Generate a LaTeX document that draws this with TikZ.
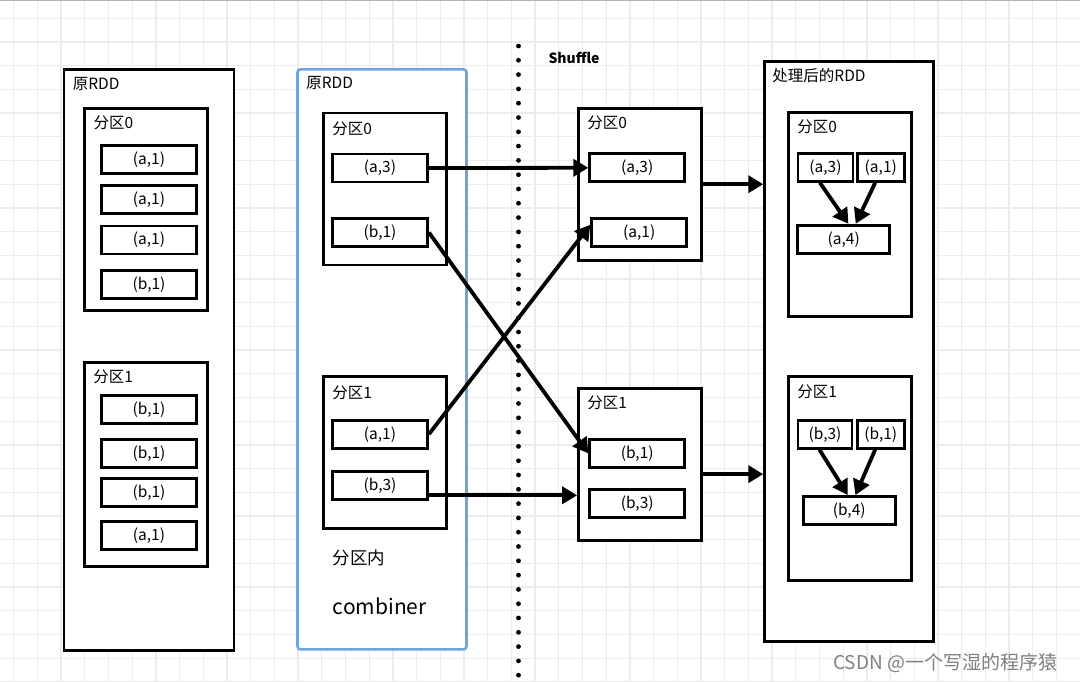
\documentclass[tikz,border=0pt]{standalone}
\usepackage{fontspec}
\setmainfont{Noto Sans CJK SC}
\usetikzlibrary{arrows.meta}
\definecolor{rddblue}{RGB}{110,165,220}
\definecolor{gridgray}{RGB}{236,236,236}
\tikzset{
    %Define standard arrow tip
    >={Triangle[length=15pt,width=17pt]},
    %Define background grid
    gridline/.style={
           draw=gridgray,
           line width=1.3pt},
    %Define style for boxes
    rddbox/.style={
           rectangle,
           draw=black, line width=2.9pt,
           fill=white,
           inner sep=0pt},
    combinebox/.style={
           rectangle,
           rounded corners=3pt,
           draw=rddblue, line width=2.6pt,
           fill=white,
           inner sep=0pt},
    partbox/.style={
           rectangle,
           draw=black, line width=2.8pt,
           fill=white,
           inner sep=0pt},
    kv/.style={
           rectangle,
           draw=black, line width=2.8pt,
           fill=white,
           minimum width=95pt,
           minimum height=28pt,
           inner sep=0pt,
           text=black,
           font=\fontsize{15.5}{18}\selectfont},
    tag/.style={
           anchor=west,
           inner sep=0pt,
           text=black,
           font=\fontsize{15.5}{18}\selectfont},
    % Define arrow style
    pil/.style={
           ->,
           line width=3.8pt}
}

\begin{document}
\begin{tikzpicture}[x=1pt,y=-1pt]
\useasboundingbox (0,0) rectangle (1080,682);
\fill[white] (0,0) rectangle (1080,682);
\foreach \i in {0,...,45}
  \draw[gridline] ({13.7+23.7*\i},0) -- ({13.7+23.7*\i},682);
\foreach \j in {0,...,28}
  \draw[gridline] (0,{18.3+23.7*\j}) -- (1080,{18.3+23.7*\j});
\draw[black!30, line width=1.2pt] (0,0.6) -- (1080,0.6);

% left: original RDD
\node[rddbox, minimum width=170pt, minimum height=581pt] (lft) at (149,359.7) {};
\node[tag] (lfttag) at ([shift={(10,16)}]lft.north west) {原RDD};
\node[partbox, minimum width=123pt, minimum height=202pt] (l0) at (146.3,209.2) {};
\node[tag] (l0tag) at ([shift={(10,16)}]l0.north west) {分区0};
\node[kv] (l0a) at (149,159.2) {(a,1)};
\node[kv] (l0b) at (149,199.2) {(a,1)};
\node[kv] (l0c) at (149,240) {(a,1)};
\node[kv] (l0d) at (149,284.2) {(b,1)};
\node[partbox, minimum width=123pt, minimum height=204pt] (l1) at (146,464.2) {};
\node[tag] (l1tag) at ([shift={(10,16)}]l1.north west) {分区1};
\node[kv] (l1a) at (149,409.5) {(b,1)};
\node[kv] (l1b) at (149,453.3) {(b,1)};
\node[kv] (l1c) at (149,492.5) {(b,1)};
\node[kv] (l1d) at (149,535.8) {(a,1)};

% middle: original RDD with combiner
\node[combinebox, minimum width=169pt, minimum height=580pt] (mid) at (382,359.4) {};
\node[tag] (midtag) at ([shift={(10,15)}]mid.north west) {原RDD};
\node[partbox, minimum width=123pt, minimum height=152pt] (m0) at (385,189) {};
\node[tag] (m0tag) at ([shift={(10,17)}]m0.north west) {分区0};
\node[kv] (m0a3) at (380,168) {(a,3)};
\node[kv] (m0b1) at (380,232.5) {(b,1)};
\node[partbox, minimum width=123pt, minimum height=152pt] (m1) at (385,452.8) {};
\node[tag] (m1tag) at ([shift={(10,17)}]m1.north west) {分区1};
\node[kv] (m1a1) at (380,434.2) {(a,1)};
\node[kv] (m1b3) at (380,485.8) {(b,3)};
\node[tag, font=\fontsize{17.5}{20}\selectfont] (inner) at (332.7,558.3) {分区内};
\node[tag, font=\fontsize{21}{24}\selectfont] (comb) at (332.7,606.7) {combiner};

% shuffle border
\coordinate (shtop) at (518.5,46);
\coordinate (shbot) at (518.5,682);
\draw[line width=4.8pt, line cap=round, dash pattern=on 0pt off 14.3pt] (shtop) -- (shbot);
\node[tag, font=\fontsize{14}{16}\selectfont\bfseries] (shuf) at (548.3,58.3) {Shuffle};

% after shuffle
\node[partbox, minimum width=123pt, minimum height=152pt] (s0) at (640,184.2) {};
\node[tag] (s0tag) at ([shift={(10,16)}]s0.north west) {分区0};
\node[kv] (s0a3) at (637.2,167.8) {(a,3)};
\node[kv] (s0a1) at (639.2,232.5) {(a,1)};
\node[partbox, minimum width=123pt, minimum height=152pt] (s1) at (640,464.2) {};
\node[tag] (s1tag) at ([shift={(10,16)}]s1.north west) {分区1};
\node[kv] (s1b1) at (637.2,453.3) {(b,1)};
\node[kv] (s1b3) at (637.2,503.7) {(b,3)};

% right: processed RDD
\node[rddbox, minimum width=169pt, minimum height=580pt] (rgt) at (849.2,351.7) {};
\node[tag] (rgttag) at ([shift={(9,15)}]rgt.north west) {处理后的RDD};
\node[partbox, minimum width=123pt, minimum height=204pt] (r0) at (850,214.5) {};
\node[tag] (r0tag) at ([shift={(10,16)}]r0.north west) {分区0};
\node[kv, minimum width=55pt] (r0a3) at (825.5,167.3) {(a,3)};
\node[kv, minimum width=47pt] (r0a1) at (880.8,167.3) {(a,1)};
\node[kv, minimum width=92pt] (r0a4) at (843.7,239.2) {(a,4)};
\node[partbox, minimum width=123pt, minimum height=204pt] (r1) at (850,478.8) {};
\node[tag] (r1tag) at ([shift={(10,16)}]r1.north west) {分区1};
\node[kv, minimum width=54pt] (r1b3) at (825,434.2) {(b,3)};
\node[kv, minimum width=47pt] (r1b1) at (880.8,434.2) {(b,1)};
\node[kv, minimum width=92pt] (r1b4) at (849.2,510.5) {(b,4)};

% connectors
\draw[pil] (m0a3.east) -- (s0a3.west);
\draw[pil] (m0b1.east) -- (s1b1.west);
\draw[pil] (m1a1.east) -- (s0a1.171);
\draw[pil] (m1b3.-11) -- (m1b3.-11 -| s1.west);
\draw[pil] (s0.east) -- (s0.east -| rgt.west);
\draw[pil] (s1.-9) -- (s1.-9 -| rgt.west);
\draw[pil] (r0a3.250) -- (r0a4.73);
\draw[pil] (r0a1.250) -- (r0a4.52);
\draw[pil] (r1b3.250) -- (r1b4.95);
\draw[pil] (r1b1.250) -- (r1b4.68);

\node[tag, text=black!50, font=\fontsize{19}{22}\selectfont] (mark) at (833,663) {CSDN @一个写湿的程序猿};
\end{tikzpicture}
\end{document}
